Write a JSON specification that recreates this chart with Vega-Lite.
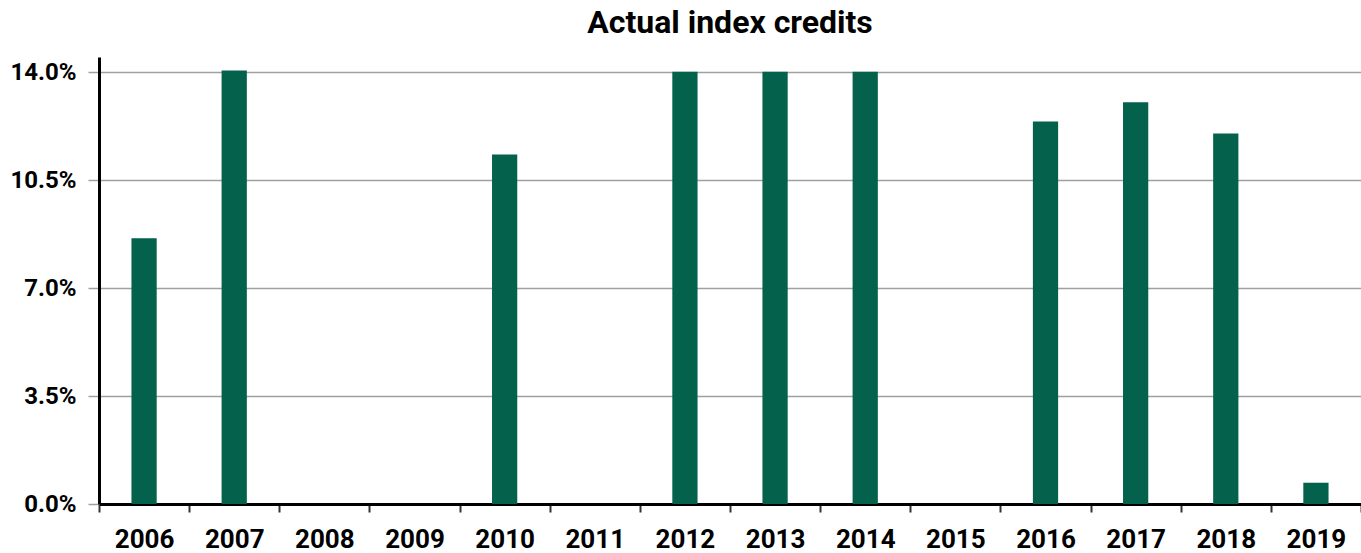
{
  "$schema": "https://vega.github.io/schema/vega-lite/v6.json",
  "autosize": {"type": "none"},
  "padding": {"left": 99, "top": 57, "right": 0, "bottom": 49},
  "width": 1262,
  "height": 447,
  "background": "white",
  "title": {
    "text": "Actual index credits",
    "font": "Roboto",
    "fontSize": 32,
    "fontWeight": "bold",
    "color": "#000000",
    "anchor": "middle",
    "offset": 17
  },
  "data": {
    "values": [
      {"year": "2006", "credit": 8.62},
      {"year": "2007", "credit": 14.06},
      {"year": "2008", "credit": 0},
      {"year": "2009", "credit": 0},
      {"year": "2010", "credit": 11.34},
      {"year": "2011", "credit": 0},
      {"year": "2012", "credit": 14.02},
      {"year": "2013", "credit": 14.02},
      {"year": "2014", "credit": 14.02},
      {"year": "2015", "credit": 0},
      {"year": "2016", "credit": 12.41},
      {"year": "2017", "credit": 13.03},
      {"year": "2018", "credit": 12.02},
      {"year": "2019", "credit": 0.69}
    ]
  },
  "mark": {"type": "bar", "color": "#03614C", "width": {"band": 0.28}},
  "encoding": {
    "x": {
      "field": "year",
      "type": "ordinal",
      "scale": {"paddingInner": 0, "paddingOuter": 0},
      "axis": {
        "title": null,
        "labelAngle": 0,
        "labelFont": "Roboto",
        "labelFontSize": 26,
        "labelFontWeight": "bold",
        "labelColor": "#000000",
        "labelPadding": 14,
        "tickBand": "extent",
        "tickSize": 8,
        "tickWidth": 2,
        "tickColor": "#333333",
        "domainColor": "#000000",
        "domainWidth": 3,
        "grid": false
      }
    },
    "y": {
      "field": "credit",
      "type": "quantitative",
      "scale": {"domain": [0, 14.5], "nice": false},
      "axis": {
        "title": null,
        "values": [0, 3.5, 7, 10.5, 14],
        "labelExpr": "format(datum.value, '.1f') + '%'",
        "labelFont": "Roboto",
        "labelFontSize": 24,
        "labelFontWeight": "bold",
        "labelColor": "#000000",
        "labelPadding": 12,
        "tickSize": 11,
        "tickColor": "#A0A0A0",
        "tickWidth": 1.5,
        "grid": true,
        "gridColor": "#A0A0A0",
        "gridWidth": 1.5,
        "domainColor": "#000000",
        "domainWidth": 3
      }
    }
  },
  "config": {"view": {"stroke": null}}
}
